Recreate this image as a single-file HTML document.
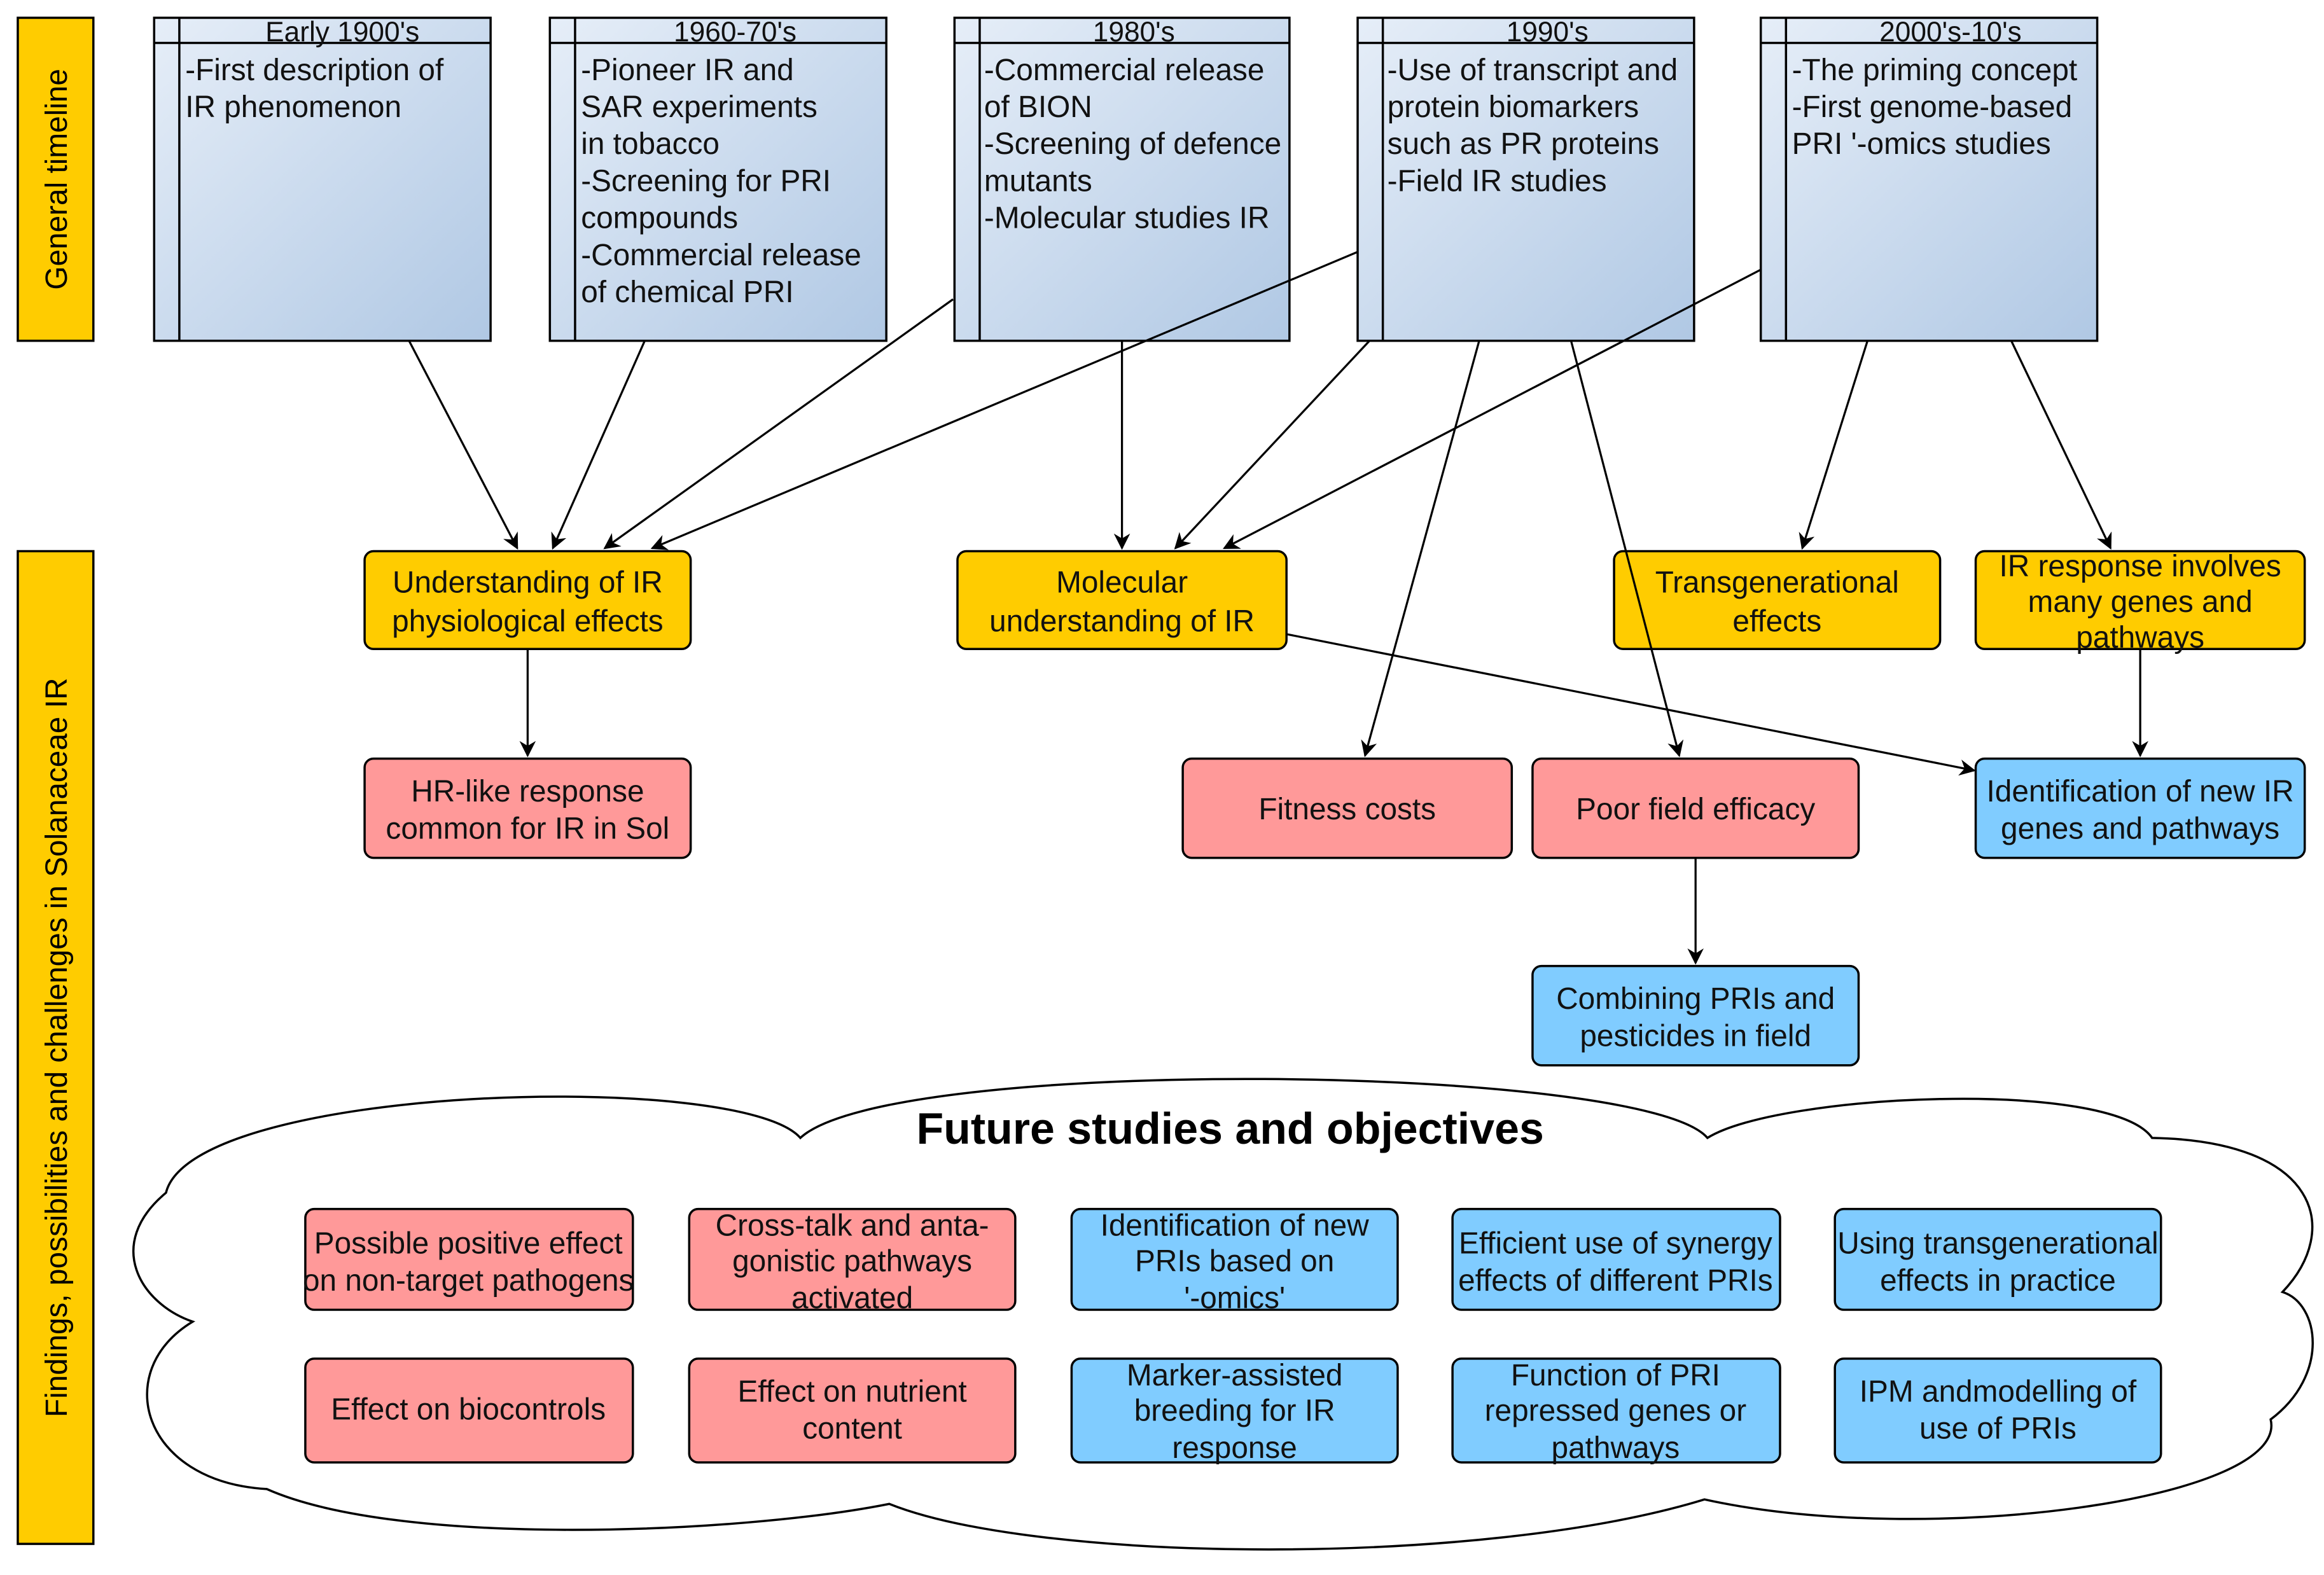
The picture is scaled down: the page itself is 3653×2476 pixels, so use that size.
<!DOCTYPE html>
<html><head><meta charset="utf-8"><style>html,body{margin:0;padding:0;background:#fff}svg{display:block}</style></head><body>
<svg width="3653" height="2476" viewBox="0 0 1568 1063" preserveAspectRatio="none" xmlns="http://www.w3.org/2000/svg" font-family="Liberation Sans, Arial, sans-serif" font-size="20.5">
<defs>
<linearGradient id="g" x1="0" y1="0" x2="1" y2="1"><stop offset="0" stop-color="#e6eef8"/><stop offset="1" stop-color="#b0c8e4"/></linearGradient>
<marker id="a" viewBox="0 0 10 10" refX="9" refY="5" markerWidth="11" markerHeight="11" markerUnits="userSpaceOnUse" orient="auto"><path d="M0,0 L10,5 L0,10 L3,5 z" fill="#000"/></marker>
<style>.t{stroke:#000;stroke-width:1.5}.ar{stroke:#000;stroke-width:1.4;fill:none;marker-end:url(#a)}</style>
</defs>
<rect x="12" y="12" width="51" height="218" fill="#ffcc00" class="t"/>
<text transform="translate(45,121) rotate(-90)" text-anchor="middle">General timeline</text>
<rect x="12" y="372" width="51" height="670" fill="#ffcc00" class="t"/>
<text transform="translate(45,707) rotate(-90)" text-anchor="middle">Findings, possibilities and challenges in Solanaceae IR</text>

<g fill="#111">
<rect x="104" y="12" width="227" height="218" fill="url(#g)" class="t"/><line x1="121" y1="12" x2="121" y2="230" class="t"/><line x1="104" y1="29" x2="331" y2="29" class="t"/>
<text x="231" y="28" text-anchor="middle" font-size="19">Early 1900's</text>
<text x="125" y="54">-First description of</text><text x="125" y="79">IR phenomenon</text>

<rect x="371" y="12" width="227" height="218" fill="url(#g)" class="t"/><line x1="388" y1="12" x2="388" y2="230" class="t"/><line x1="371" y1="29" x2="598" y2="29" class="t"/>
<text x="496" y="28" text-anchor="middle" font-size="19">1960-70's</text>
<text x="392" y="54">-Pioneer IR and</text><text x="392" y="79">SAR experiments</text><text x="392" y="104">in tobacco</text><text x="392" y="129">-Screening for PRI</text><text x="392" y="154">compounds</text><text x="392" y="179">-Commercial release</text><text x="392" y="204">of chemical PRI</text>

<rect x="644" y="12" width="226" height="218" fill="url(#g)" class="t"/><line x1="661" y1="12" x2="661" y2="230" class="t"/><line x1="644" y1="29" x2="870" y2="29" class="t"/>
<text x="765" y="28" text-anchor="middle" font-size="19">1980's</text>
<text x="664" y="54">-Commercial release</text><text x="664" y="79">of BION</text><text x="664" y="104">-Screening of defence</text><text x="664" y="129">mutants</text><text x="664" y="154">-Molecular studies IR</text>

<rect x="916" y="12" width="227" height="218" fill="url(#g)" class="t"/><line x1="933" y1="12" x2="933" y2="230" class="t"/><line x1="916" y1="29" x2="1143" y2="29" class="t"/>
<text x="1044" y="28" text-anchor="middle" font-size="19">1990's</text>
<text x="936" y="54">-Use of transcript and</text><text x="936" y="79">protein biomarkers</text><text x="936" y="104">such as PR proteins</text><text x="936" y="129">-Field IR studies</text>

<rect x="1188" y="12" width="227" height="218" fill="url(#g)" class="t"/><line x1="1205" y1="12" x2="1205" y2="230" class="t"/><line x1="1188" y1="29" x2="1415" y2="29" class="t"/>
<text x="1316" y="28" text-anchor="middle" font-size="19">2000's-10's</text>
<text x="1209" y="54">-The priming concept</text><text x="1209" y="79">-First genome-based</text><text x="1209" y="104">PRI '-omics studies</text>
</g>

<path d="M540,768 C500,722 130,732 112,805 C70,840 95,880 130,892 C75,925 95,1000 180,1005 C270,1045 500,1035 600,1015 C700,1055 1000,1058 1150,1012 C1300,1045 1545,1012 1532,958 C1572,928 1565,880 1540,872 C1580,830 1565,770 1452,768 C1425,728 1200,738 1152,768 C1110,718 600,712 540,768 Z" fill="#fff" stroke="#000" stroke-width="1.5"/>
<text x="830" y="772" text-anchor="middle" font-size="30" font-weight="bold">Future studies and objectives</text>

<g class="t">
<rect x="246" y="372" width="220" height="66" rx="6" fill="#ffcc00"/>
<rect x="646" y="372" width="222" height="66" rx="6" fill="#ffcc00"/>
<rect x="1089" y="372" width="220" height="66" rx="6" fill="#ffcc00"/>
<rect x="1333" y="372" width="222" height="66" rx="6" fill="#ffcc00"/>
<rect x="246" y="512" width="220" height="67" rx="6" fill="#ff9999"/>
<rect x="798" y="512" width="222" height="67" rx="6" fill="#ff9999"/>
<rect x="1034" y="512" width="220" height="67" rx="6" fill="#ff9999"/>
<rect x="1333" y="512" width="222" height="67" rx="6" fill="#80ccff"/>
<rect x="1034" y="652" width="220" height="67" rx="6" fill="#80ccff"/>
<rect x="206" y="816" width="221" height="68" rx="6" fill="#ff9999"/>
<rect x="465" y="816" width="220" height="68" rx="6" fill="#ff9999"/>
<rect x="723" y="816" width="220" height="68" rx="6" fill="#80ccff"/>
<rect x="980" y="816" width="221" height="68" rx="6" fill="#80ccff"/>
<rect x="1238" y="816" width="220" height="68" rx="6" fill="#80ccff"/>
<rect x="206" y="917" width="221" height="70" rx="6" fill="#ff9999"/>
<rect x="465" y="917" width="220" height="70" rx="6" fill="#ff9999"/>
<rect x="723" y="917" width="220" height="70" rx="6" fill="#80ccff"/>
<rect x="980" y="917" width="221" height="70" rx="6" fill="#80ccff"/>
<rect x="1238" y="917" width="220" height="70" rx="6" fill="#80ccff"/>
</g>
<g text-anchor="middle" fill="#111">
<text x="356" y="400">Understanding of IR</text><text x="356" y="426">physiological effects</text>
<text x="757" y="400">Molecular</text><text x="757" y="426">understanding of IR</text>
<text x="1199" y="400">Transgenerational</text><text x="1199" y="426">effects</text>
<text x="1444" y="389">IR response involves</text><text x="1444" y="413">many genes and</text><text x="1444" y="437">pathways</text>
<text x="356" y="541">HR-like response</text><text x="356" y="566">common for IR in Sol</text>
<text x="909" y="553">Fitness costs</text>
<text x="1144" y="553">Poor field efficacy</text>
<text x="1444" y="541">Identification of new IR</text><text x="1444" y="566">genes and pathways</text>
<text x="1144" y="681">Combining PRIs and</text><text x="1144" y="706">pesticides in field</text>
<text x="316" y="846">Possible positive effect</text><text x="316" y="871">on non-target pathogens</text>
<text x="575" y="834">Cross-talk and anta-</text><text x="575" y="858">gonistic pathways</text><text x="575" y="883">activated</text>
<text x="833" y="834">Identification of new</text><text x="833" y="858">PRIs based on</text><text x="833" y="883">'-omics'</text>
<text x="1090" y="846">Efficient use of synergy</text><text x="1090" y="871">effects of different PRIs</text>
<text x="1348" y="846">Using transgenerational</text><text x="1348" y="871">effects in practice</text>
<text x="316" y="958">Effect on biocontrols</text>
<text x="575" y="946">Effect on nutrient</text><text x="575" y="971">content</text>
<text x="833" y="935">Marker-assisted</text><text x="833" y="959">breeding for IR</text><text x="833" y="984">response</text>
<text x="1090" y="935">Function of PRI</text><text x="1090" y="959">repressed genes or</text><text x="1090" y="984">pathways</text>
<text x="1348" y="946">IPM andmodelling of</text><text x="1348" y="971">use of PRIs</text>
</g>

<line x1="276" y1="230" x2="349" y2="370" class="ar"/>
<line x1="435" y1="230" x2="373" y2="370" class="ar"/>
<line x1="643" y1="202" x2="408" y2="370" class="ar"/>
<line x1="916" y1="170" x2="440" y2="370" class="ar"/>
<line x1="757" y1="230" x2="757" y2="370" class="ar"/>
<line x1="924" y1="230" x2="793" y2="370" class="ar"/>
<line x1="1188" y1="182" x2="826" y2="370" class="ar"/>
<line x1="998" y1="230" x2="921" y2="510" class="ar"/>
<line x1="1060" y1="230" x2="1133" y2="510" class="ar"/>
<line x1="1260" y1="230" x2="1216" y2="370" class="ar"/>
<line x1="1357" y1="230" x2="1424" y2="370" class="ar"/>
<line x1="356" y1="438" x2="356" y2="510" class="ar"/>
<line x1="868" y1="428" x2="1332" y2="520" class="ar"/>
<line x1="1444" y1="438" x2="1444" y2="510" class="ar"/>
<line x1="1144" y1="579" x2="1144" y2="650" class="ar"/>
</svg>
</body></html>
